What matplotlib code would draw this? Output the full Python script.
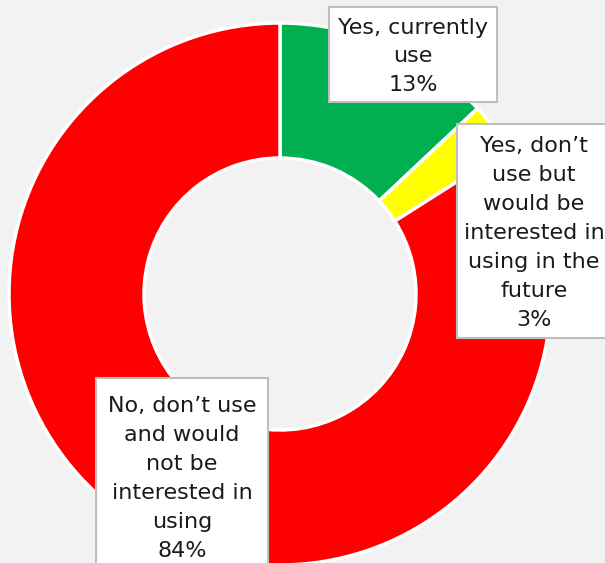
import matplotlib
matplotlib.use("Agg")
import matplotlib.pyplot as plt
from matplotlib.patches import Rectangle

labels = ["Yes, currently\nuse",
          "Yes, don\u2019t\nuse but\nwould be\ninterested in\nusing in the\nfuture",
          "No, don\u2019t use\nand would\nnot be\ninterested in\nusing"]
shares = [13, 3, 84]
colors = ["#00B050", "#FFFF00", "#FF0000"]

W, H = 605, 563
fig = plt.figure(figsize=(W / 100, H / 100), dpi=100, facecolor="#F2F2F2")
ax = fig.add_axes([0, 0, 1, 1])
ax.set_facecolor("#F2F2F2")

# donut, pixel units
ax.pie(shares, colors=colors, startangle=90, counterclock=False,
       center=(280, H - 294), radius=271, frame=True,
       wedgeprops=dict(width=135, edgecolor="white", linewidth=2.5))
ax.set_xlim(0, W)
ax.set_ylim(0, H)
ax.set_aspect("equal")
ax.axis("off")

# label boxes: (left, top, width, height) in pixels from top-left
boxes = [(329, 7, 168, 95), (457, 124, 154, 214), (96, 378, 172, 197)]
for lab, val, (x0, y0, bw, bh) in zip(labels, shares, boxes):
    ax.add_patch(Rectangle((x0, H - y0 - bh), bw, bh, facecolor="white",
                           edgecolor="#BFBFBF", linewidth=1.5, zorder=5))
    ax.text(x0 + bw / 2, H - y0 - bh / 2 - 2, f"{lab}\n{val}%", ha="center",
            va="center", fontsize=16, linespacing=1.56, color="#1A1A1A",
            family="DejaVu Sans", zorder=6)

fig.savefig("out.png", dpi=100, facecolor=fig.get_facecolor())
